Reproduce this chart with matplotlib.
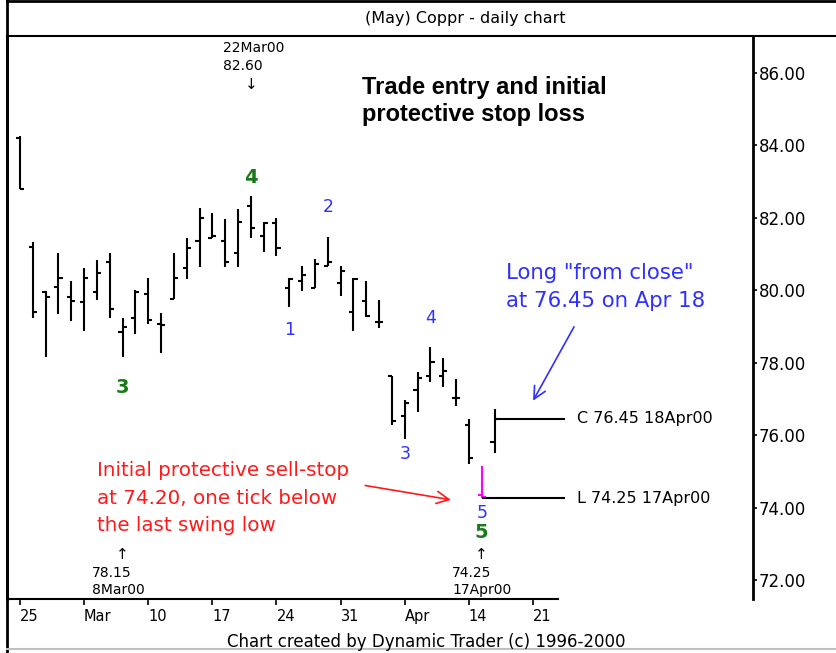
import matplotlib
matplotlib.use('Agg')
import matplotlib.pyplot as plt
from matplotlib.lines import Line2D
import numpy as np

# daily bars, (May) copper, 25 Feb 2000 .. 18 Apr 2000
dates = ['25Feb00', '28Feb00', '29Feb00', '1Mar00', '2Mar00', '3Mar00',
         '6Mar00', '7Mar00', '8Mar00', '9Mar00', '10Mar00',
         '13Mar00', '14Mar00', '15Mar00', '16Mar00', '17Mar00',
         '20Mar00', '21Mar00', '22Mar00', '23Mar00', '24Mar00',
         '27Mar00', '28Mar00', '29Mar00', '30Mar00', '31Mar00',
         '3Apr00', '4Apr00', '5Apr00', '6Apr00', '7Apr00',
         '10Apr00', '11Apr00', '12Apr00', '13Apr00', '14Apr00',
         '17Apr00', '18Apr00']
opens = [84.20, 81.20, 79.95, 80.09, 79.80, 79.66, 79.95, 80.78, 78.83, 79.24, 79.89,
         79.06, 79.75, 80.62, 81.35, 81.43, 81.35, 81.01, 82.33, 81.49, 81.84,
         80.05, 80.26, 80.05, 80.66, 80.18, 79.40, 79.70, 79.13, 77.63, 76.52,
         77.24, 77.63, 77.63, 77.01, 76.28, 74.35, 75.80]
highs = [84.25, 81.33, 79.97, 81.03, 80.26, 80.60, 80.83, 81.03, 79.24, 80.00, 80.34,
         79.37, 81.03, 81.44, 82.27, 82.13, 81.95, 82.23, 82.60, 81.87, 81.98,
         80.32, 80.66, 80.86, 81.45, 80.67, 80.32, 80.25, 79.72, 77.63, 76.97,
         77.73, 78.42, 78.12, 77.54, 76.43, 75.14, 76.72]
lows = [82.80, 79.22, 78.16, 79.34, 79.15, 78.87, 79.72, 79.22, 78.15, 78.78, 79.06,
        78.25, 79.75, 80.30, 80.64, 81.43, 80.64, 80.64, 81.43, 81.04, 80.94,
        79.54, 79.98, 80.05, 80.66, 79.83, 78.87, 79.26, 78.96, 76.28, 75.88,
        76.64, 77.47, 77.33, 76.80, 75.20, 74.25, 75.49]
closes = [82.80, 79.40, 79.80, 80.32, 79.70, 80.32, 80.48, 79.48, 78.99, 79.95, 79.17,
          79.03, 80.32, 81.15, 81.98, 81.49, 80.78, 81.87, 81.72, 81.84, 81.15,
          80.29, 80.41, 80.71, 80.78, 80.52, 80.29, 79.29, 79.13, 76.39, 76.87,
          77.58, 78.01, 77.77, 77.01, 75.37, 74.30, 76.45]

week_ticks = [0, 5, 10, 15, 20, 25, 30, 35, 40]
week_labels = ['25', 'Mar', '10', '17', '24', '31', 'Apr', '14', '21']
price_ticks = [72, 74, 76, 78, 80, 82, 84, 86]

entry_price = 76.45
stop_price = 74.20

# wave counts: (bar index, label, offset from the bar's high (+) or low (-))
blue_waves = [(21, '1', -0.65), (24, '2', 0.85), (30, '3', -0.4), (32, '4', 0.8), (36, '5', -0.4)]
green_waves = [(18, '4', 0.5), (8, '3', -0.85), (36, '5', -0.95)]

W, H = 836, 653
fig = plt.figure(figsize=(W / 100, H / 100), dpi=100)
ax = fig.add_axes([7 / W, 1 - 599 / H, (753 - 7) / W, (599 - 36) / H])

idx = np.arange(len(dates))
o = np.array(opens); h = np.array(highs); l = np.array(lows); c = np.array(closes)
cols = ['black'] * len(dates)
cols[36] = '#ff00ff'
tw = 0.32
ax.vlines(idx, l, h, colors=cols, lw=1.5)
ax.hlines(o, idx - tw, idx, colors=cols, lw=1.5)
ax.hlines(c, idx, idx + tw, colors=cols, lw=1.5)

ax.set_xlim(-1.01, 57.15)
ax.set_ylim(71.476, 87.007)

# entry / low lines on the right
ax.hlines(entry_price, idx[37], 42.5, color='black', lw=1.5)
ax.hlines(lows[36], idx[36], 42.5, color='black', lw=1.5)
ax.text(43.4, entry_price, 'C %.2f %s' % (entry_price, dates[37]), fontsize=11.5,
        va='center', ha='left')
ax.text(43.4, lows[36], 'L %.2f %s' % (lows[36], dates[36]), fontsize=11.5,
        va='center', ha='left')

# axes styling
ax.spines['top'].set_visible(False)
ax.spines['left'].set_linewidth(2)
ax.spines['right'].set_linewidth(2)
ax.spines['bottom'].set_linewidth(1.5)
ax.spines['bottom'].set_bounds(-1.01, 41.95)
ax.yaxis.tick_right()
ax.set_yticks(price_ticks, ['%.2f' % p for p in price_ticks])
ax.tick_params(axis='y', direction='out', length=3, width=1.2, pad=1, labelsize=12)
ax.set_xticks(week_ticks, week_labels)
ax.tick_params(axis='x', direction='out', length=4, width=1.2, pad=3, labelsize=10.5)
for lab in ax.get_xticklabels():
    lab.set_horizontalalignment('left')

# wave labels
for i, t, off in blue_waves:
    y = highs[i] + off if off > 0 else lows[i] + off
    ax.text(i, y, t, color='#3030ff', fontsize=12.5, ha='center', va='center')
for i, t, off in green_waves:
    y = highs[i] + off if off > 0 else lows[i] + off
    ax.text(i, y, t, color='#1a7a1a', fontsize=14, fontweight='bold',
            ha='center', va='center')

# swing high / low markers
ax.text(18 - 2.2, 86.68, '22Mar00', fontsize=10, ha='left', va='center')
ax.text(18 - 2.2, 86.18, '%.2f' % highs[18], fontsize=10, ha='left', va='center')
ax.text(18, 85.66, '\u2193', fontsize=11, ha='center', va='center')
ax.text(8, 72.69, '\u2191', fontsize=11, ha='center', va='center')
ax.text(8 - 2.4, 72.19, '%.2f' % lows[8], fontsize=10, ha='left', va='center')
ax.text(8 - 2.4, 71.72, dates[8], fontsize=10, ha='left', va='center')
ax.text(36, 72.69, '\u2191', fontsize=11, ha='center', va='center')
ax.text(36 - 2.3, 72.19, '%.2f' % lows[36], fontsize=10, ha='left', va='center')
ax.text(36 - 2.3, 71.72, dates[36], fontsize=10, ha='left', va='center')

# comments, one line at a time
def note(x, ys, lines, **kw):
    for y, s in zip(ys, lines):
        ax.text(x, y, s, transform=ax.transAxes, ha='left', va='center', **kw)

note(0.476, [0.909, 0.861], ['Trade entry and initial', 'protective stop loss'],
     fontsize=17, fontweight='bold', family='Liberation Sans')
note(0.669, [0.579, 0.529], ['Long "from close"', 'at 76.45 on Apr 18'],
     fontsize=15.3, color='#3030ff')
note(0.121, [0.229, 0.179, 0.131],
     ['Initial protective sell-stop', 'at 74.20, one tick below', 'the last swing low'],
     fontsize=14.3, color='#ff1a1a')
ax.annotate('', xy=(39.9, entry_price + 0.43), xytext=(43.3, 79.05),
            arrowprops=dict(arrowstyle='->', color='#3030ff', lw=1.2,
                            mutation_scale=22))
ax.annotate('', xy=(33.8, stop_price), xytext=(26.7, 74.62),
            arrowprops=dict(arrowstyle='->', color='#ff1a1a', lw=1.2,
                            mutation_scale=22))

# frame, title and footer
def px_line(x0, y0, x1, y1, color='black', lw=1.5):
    fig.add_artist(Line2D([x0 / W, x1 / W], [1 - y0 / H, 1 - y1 / H],
                          transform=fig.transFigure, color=color, lw=lw))

px_line(7, 1, 836, 1, lw=2)
px_line(7, 1, 7, 653, lw=2)
px_line(7, 36, 836, 36, lw=1.5)
px_line(7, 649, 836, 649, color='#c0c0c0', lw=1.5)
fig.text(465 / W, 1 - 18 / H, '(May) Coppr - daily chart', fontsize=11.5,
         ha='center', va='center')
fig.text(426 / W, 1 - 642 / H, 'Chart created by Dynamic Trader (c) 1996-2000',
         fontsize=12, ha='center', va='center')

fig.savefig('out.png', dpi=100)
